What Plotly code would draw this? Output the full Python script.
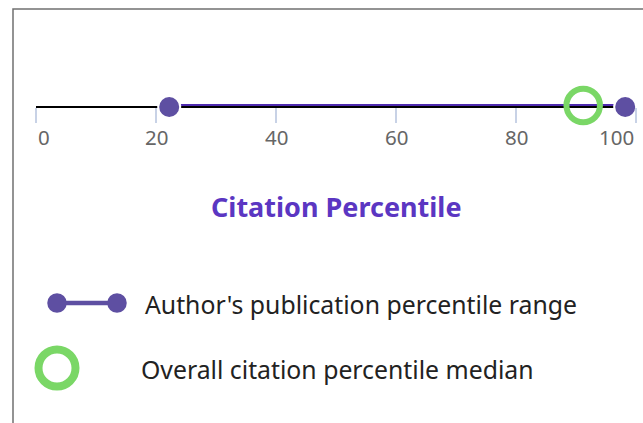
import plotly.graph_objects as go

# ---- data ----
axis_ticks = [0, 20, 40, 60, 80, 100]
tick_labels = ["0", "20", "40", "60", "80", "100"]
author_range = [22.2, 98.2]      # author's publication percentile range (low, high)
overall_median = [91.2]          # overall citation percentile median
baseline = [0, 98.2]             # black base line from axis start to the range top
axis_title = "Citation Percentile"
legend_labels = ["Author's publication percentile range",
                 "Overall citation percentile median"]

# ---- styling ----
W, H = 643, 423
FONT = "Noto Sans, Open Sans, sans-serif"
PURPLE_DOT = "#5e4fa2"
PURPLE_LINE = "#4f2bb0"
GREEN = "#7ad766"
TITLE_COLOR = "#5b36c2"
TICK_COLOR = "#c8d2e6"
LABEL_COLOR = "#666666"


def py(p):
    """pixel row -> paper y"""
    return 1 - p / H


def px(p):
    """pixel column -> paper x"""
    return p / W


fig = go.Figure()

# chart marks
fig.add_trace(go.Scatter(x=baseline, y=[0, 0], mode="lines",
                         line=dict(color="black", width=2), hoverinfo="skip"))
fig.add_trace(go.Scatter(x=author_range, y=[2, 2], mode="lines",
                         line=dict(color=PURPLE_LINE, width=2), hoverinfo="skip"))
fig.add_trace(go.Scatter(x=author_range, y=[0, 0], mode="markers", cliponaxis=False,
                         marker=dict(size=22, color=PURPLE_DOT,
                                     line=dict(color="white", width=2))))
fig.add_trace(go.Scatter(x=overall_median, y=[1.5], mode="markers", cliponaxis=False,
                         marker=dict(symbol="circle-open", size=33.5, color=GREEN,
                                     line=dict(width=6, color=GREEN))))

# legend glyphs (pixel-space overlay axes)
fig.add_trace(go.Scatter(x=[57, 117], y=[303, 303], mode="lines+markers",
                         xaxis="x2", yaxis="y2", cliponaxis=False,
                         line=dict(color=PURPLE_DOT, width=4.5),
                         marker=dict(size=19.5, color=PURPLE_DOT)))
fig.add_trace(go.Scatter(x=[57], y=[368], mode="markers",
                         xaxis="x2", yaxis="y2", cliponaxis=False,
                         marker=dict(symbol="circle-open", size=37, color=GREEN,
                                     line=dict(width=8, color=GREEN))))

annotations = []
for i, (v, t) in enumerate(zip(axis_ticks, tick_labels)):
    anchor = "left" if i == 0 else ("right" if i == len(axis_ticks) - 1 else "center")
    annotations.append(dict(x=v, xref="x", y=py(137), yref="paper", text=t,
                            showarrow=False, xanchor=anchor, yanchor="middle",
                            font=dict(family=FONT, size=20.5, color=LABEL_COLOR)))
annotations.append(dict(x=50, xref="x", y=py(207), yref="paper",
                        text="<b>" + axis_title + "</b>", showarrow=False,
                        xanchor="center", yanchor="middle",
                        font=dict(family=FONT, size=27, color=TITLE_COLOR)))
annotations.append(dict(x=px(143), xref="paper", y=py(304), yref="paper",
                        text=legend_labels[0], showarrow=False,
                        xanchor="left", yanchor="middle",
                        font=dict(family=FONT, size=24.8, color="#222222")))
annotations.append(dict(x=px(139), xref="paper", y=py(369), yref="paper",
                        text=legend_labels[1], showarrow=False,
                        xanchor="left", yanchor="middle",
                        font=dict(family=FONT, size=24.8, color="#222222")))

fig.update_layout(
    width=W, height=H,
    margin=dict(l=0, r=0, t=0, b=0, pad=0, autoexpand=False),
    paper_bgcolor="white", plot_bgcolor="rgba(0,0,0,0)",
    showlegend=False,
    xaxis=dict(domain=[px(36), px(636)], range=[0, 100], anchor="free",
               position=py(107), tickvals=axis_ticks, ticks="outside",
               ticklen=15, tickwidth=1.5, tickcolor=TICK_COLOR,
               showticklabels=False, showgrid=False, zeroline=False,
               showline=False, fixedrange=True),
    yaxis=dict(domain=[0, 1], range=[-(H - 107), 107], visible=False,
               fixedrange=True),
    xaxis2=dict(domain=[0, 1], range=[0, W], anchor="y2", visible=False,
                fixedrange=True),
    yaxis2=dict(domain=[0, 1], range=[H, 0], anchor="x2", visible=False,
                fixedrange=True),
    annotations=annotations,
    shapes=[dict(type="rect", xref="paper", yref="paper",
                 x0=px(13), x1=1.2, y0=-0.2, y1=py(9),
                 line=dict(color="#707070", width=1.5), layer="below")],
)

fig.write_html("out.html", config={"displayModeBar": False},
               post_script="document.body.style.margin='0';"
                           "document.body.style.overflow='hidden';")
